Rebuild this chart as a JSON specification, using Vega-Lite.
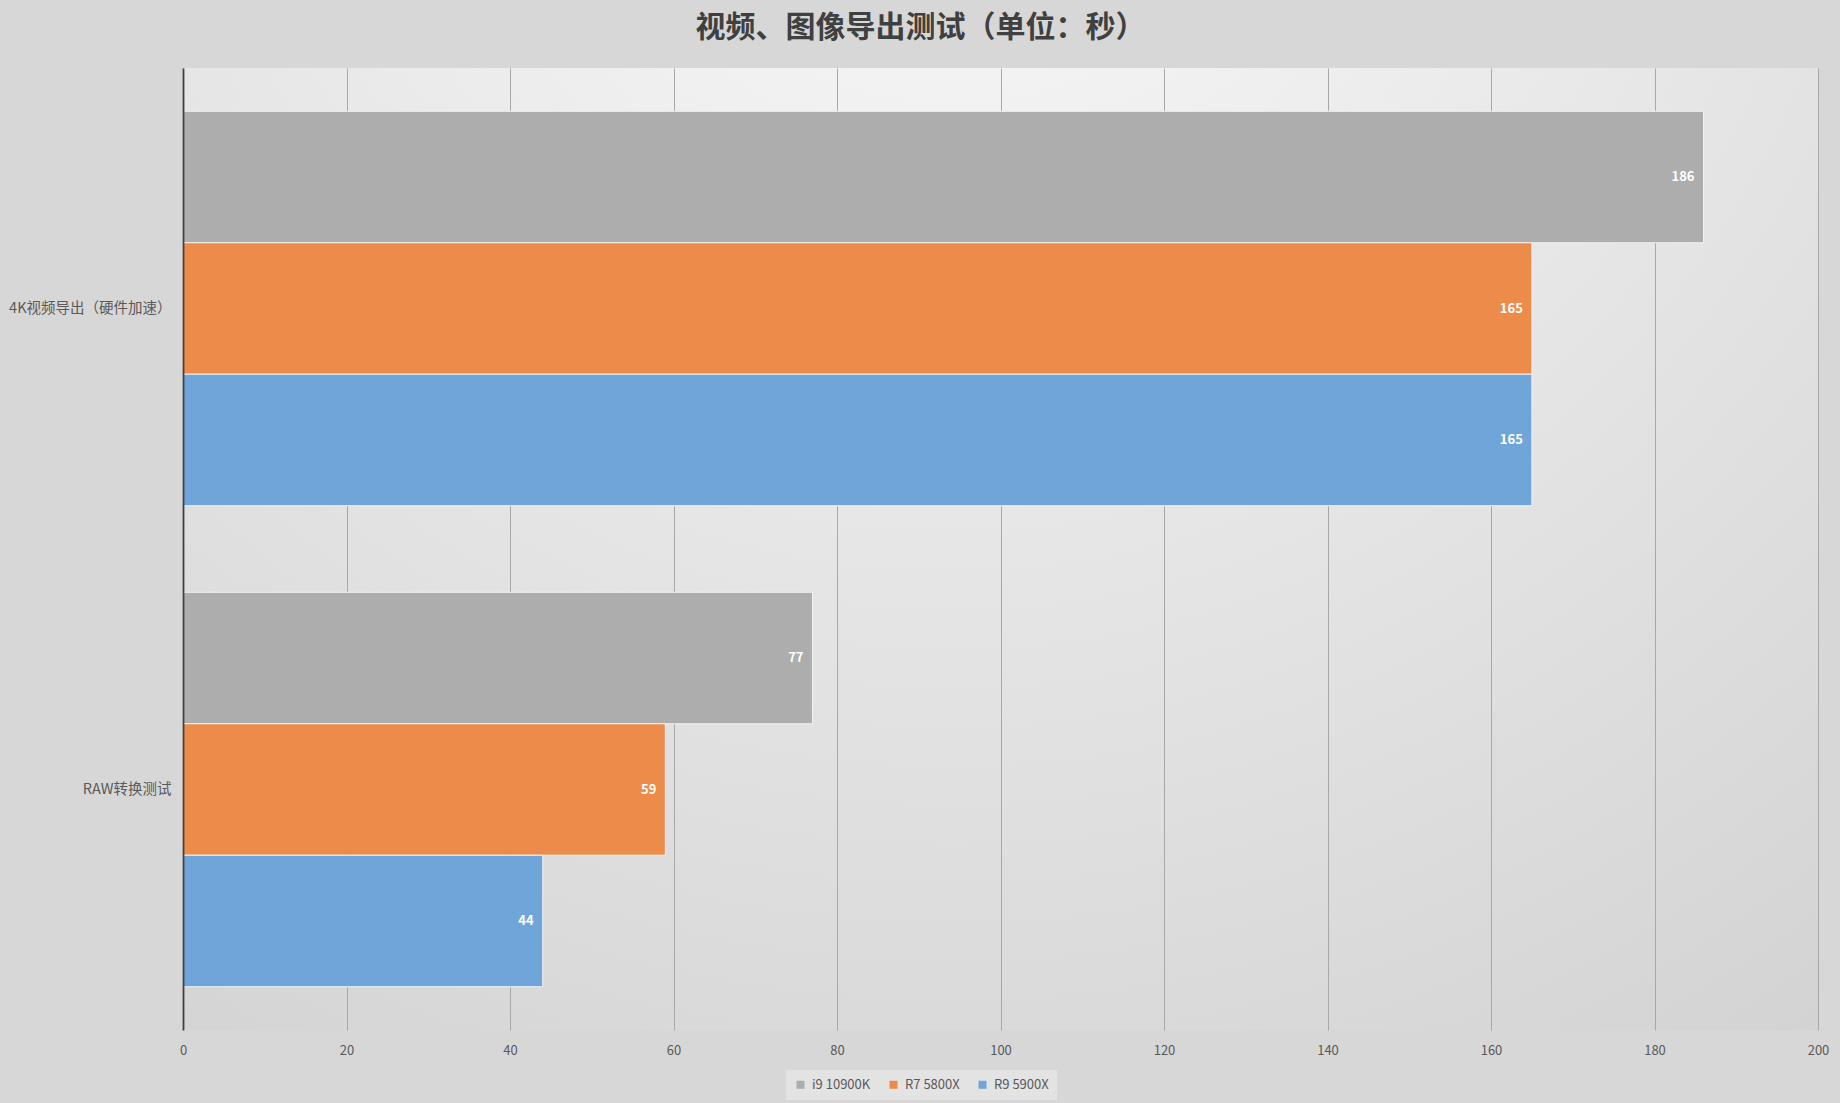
{
  "$schema": "https://vega.github.io/schema/vega-lite/v6.json",
  "width": 1635,
  "height": 962,
  "autosize": {"type": "none"},
  "padding": {"left": 183, "top": 68, "right": 22, "bottom": 73},
  "background": "#d7d7d7",
  "title": {
    "text": "视频、图像导出测试（单位：秒）",
    "font": "Noto Sans CJK SC",
    "fontSize": 30,
    "fontWeight": "bold",
    "color": "#404040",
    "anchor": "middle",
    "dx": -80,
    "offset": 25
  },
  "config": {
    "view": {
      "stroke": null,
      "fill": {
        "gradient": "radial",
        "x1": 0.47, "y1": 0, "r1": 0,
        "x2": 0.47, "y2": 0, "r2": 1.05,
        "stops": [
          {"offset": 0, "color": "#fbfbfb"},
          {"offset": 1, "color": "#cfcfcf"}
        ]
      }
    },
    "font": "Noto Sans CJK SC"
  },
  "data": {
    "values": [
      {"test": "4K视频导出（硬件加速）", "cpu": "i9 10900K", "time": 186},
      {"test": "4K视频导出（硬件加速）", "cpu": "R7 5800X", "time": 165},
      {"test": "4K视频导出（硬件加速）", "cpu": "R9 5900X", "time": 165},
      {"test": "RAW转换测试", "cpu": "i9 10900K", "time": 77},
      {"test": "RAW转换测试", "cpu": "R7 5800X", "time": 59},
      {"test": "RAW转换测试", "cpu": "R9 5900X", "time": 44}
    ]
  },
  "encoding": {
    "y": {
      "field": "test",
      "type": "nominal",
      "sort": ["4K视频导出（硬件加速）", "RAW转换测试"],
      "scale": {"paddingInner": 0.18, "paddingOuter": 0.09},
      "axis": {
        "title": null,
        "ticks": false,
        "domain": true,
        "domainColor": "#404040",
        "domainWidth": 1.8,
        "labelFontSize": 14.5,
        "labelColor": "#595959",
        "labelPadding": 12,
        "labelLimit": 300,
        "zindex": 1
      }
    },
    "yOffset": {
      "field": "cpu",
      "type": "nominal",
      "sort": ["i9 10900K", "R7 5800X", "R9 5900X"],
      "scale": {"paddingInner": 0, "paddingOuter": 0}
    },
    "x": {
      "field": "time",
      "type": "quantitative",
      "scale": {"domain": [0, 200], "nice": false},
      "axis": {
        "title": null,
        "values": [0, 20, 40, 60, 80, 100, 120, 140, 160, 180, 200],
        "grid": true,
        "gridColor": "#a8a8a8",
        "gridWidth": 1,
        "domain": false,
        "ticks": false,
        "labelFlush": false,
        "labelFontSize": 13,
        "labelColor": "#595959",
        "labelPadding": 14
      }
    }
  },
  "layer": [
    {
      "mark": {"type": "bar", "stroke": "#f2f2f2", "strokeWidth": 1},
      "encoding": {
        "color": {
          "field": "cpu",
          "type": "nominal",
          "sort": ["i9 10900K", "R7 5800X", "R9 5900X"],
          "scale": {
            "domain": ["i9 10900K", "R7 5800X", "R9 5900X"],
            "range": ["#adadad", "#ec8b4a", "#6fa5d8"]
          },
          "legend": {
            "title": null,
            "orient": "none",
            "direction": "horizontal",
            "legendX": 603,
            "legendY": 1002,
            "fillColor": "#e3e3e3",
            "padding": 8,
            "symbolType": "square",
            "symbolSize": 64,
            "symbolStrokeWidth": 0,
            "labelFontSize": 13,
            "labelColor": "#595959",
            "labelOffset": 5,
            "columnPadding": 16
          }
        }
      }
    },
    {
      "mark": {
        "type": "text",
        "align": "right",
        "baseline": "middle",
        "dx": -9,
        "color": "white",
        "fontWeight": "bold",
        "fontSize": 13
      },
      "encoding": {
        "text": {"field": "time", "type": "quantitative"}
      }
    }
  ]
}
